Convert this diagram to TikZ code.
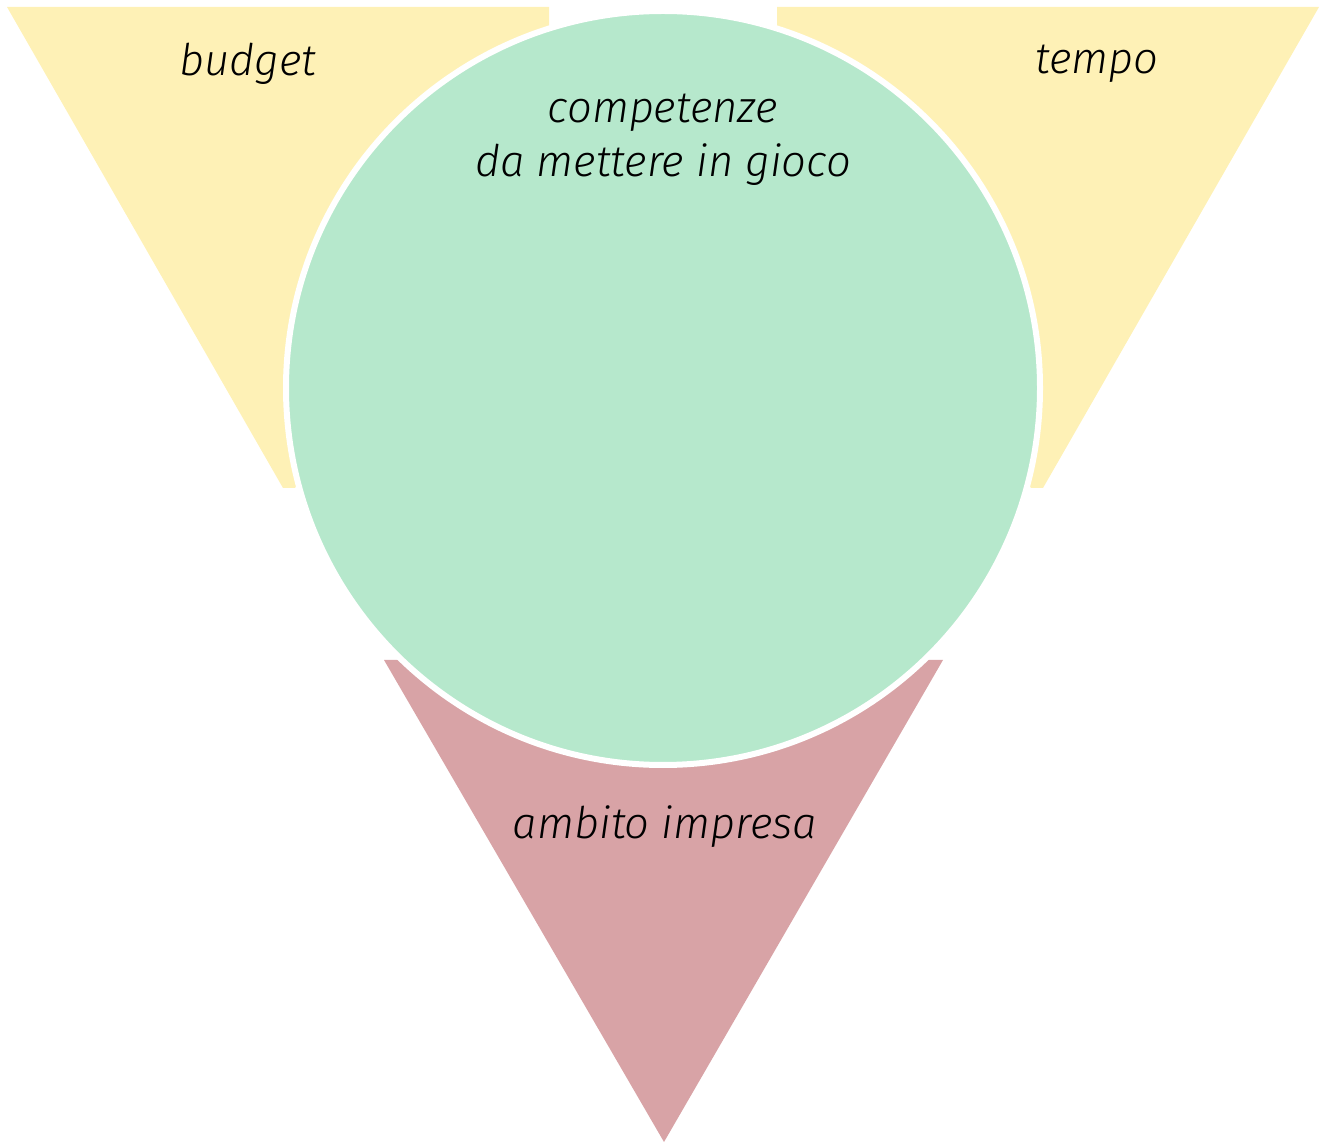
\documentclass[tikz,border=0pt]{standalone}
\usepackage{fontspec}
\newfontfamily\hand{Fira Sans Light}[ItalicFont={Fira Sans Light Italic}]
\definecolor{sunyellow}{RGB}{254,241,182}
\definecolor{mintgreen}{RGB}{182,232,204}
\definecolor{dustypink}{RGB}{216,163,166}
\tikzset{
	label text/.style={font=\hand\itshape\fontsize{12.4}{15.5}\selectfont, align=center, inner sep=0pt},
}
\begin{document}
\begin{tikzpicture}
	\useasboundingbox (0,0) rectangle (13.25,-11.44);

	\coordinate (BL1) at (0.07,-0.07);
	\coordinate (BL2) at (5.49,-0.07);
	\coordinate (BL5) at (5.49,-0.40);
	\coordinate (BL3) at (2.95,-4.88);
	\coordinate (BL4) at (2.83,-4.88);
	\coordinate (TR1) at (7.77,-0.07);
	\coordinate (TR5) at (7.77,-0.40);
	\coordinate (TR2) at (13.19,-0.07);
	\coordinate (TR3) at (10.43,-4.88);
	\coordinate (TR4) at (10.31,-4.88);
	\coordinate (AI1) at (3.84,-6.60);
	\coordinate (AI2) at (9.43,-6.60);
	\coordinate (AI3) at (6.64,-11.42);

	\fill [sunyellow] (BL1) -- (BL2) -- (BL5) -- (BL3) -- (BL4) -- cycle;
	\fill [sunyellow] (TR5) -- (TR1) -- (TR2) -- (TR3) -- (TR4) -- cycle;
	\fill [dustypink] (AI1) -- (AI2) -- (AI3) -- cycle;

	\node [circle,fill=mintgreen,draw=white,line width=0.06cm,inner sep=0pt,minimum size=7.54cm](C) at (6.63,-3.88) {};

	\node [label text](budget) at (2.48,-0.64) {budget};
	\node [label text](tempo) at (10.97,-0.64) {tempo};
	\node [label text](comp) at (6.63,-1.40) {competenze\\da mettere in gioco};
	\node [label text](ambito) at (6.65,-8.27) {ambito impresa};
\end{tikzpicture}
\end{document}
